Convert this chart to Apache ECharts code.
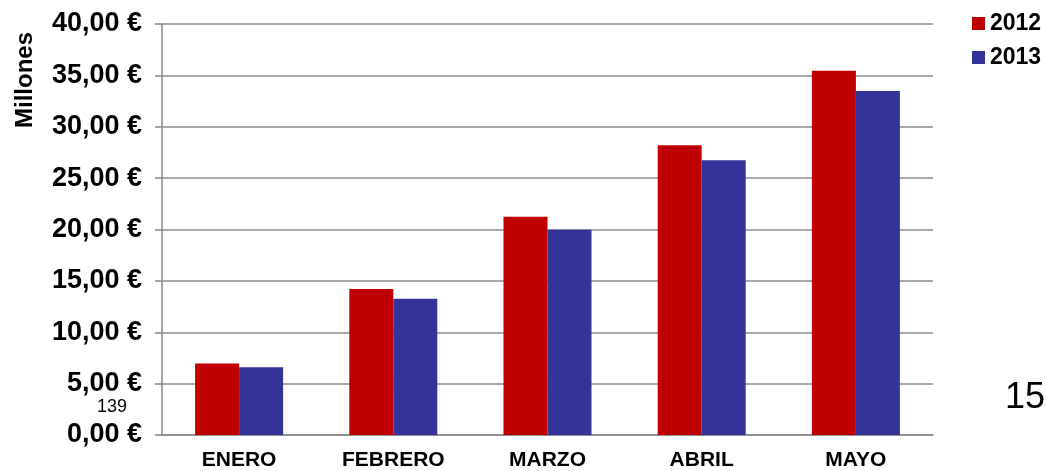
<!DOCTYPE html>
<html>
<head>
<meta charset="utf-8">
<script src="https://cdn.jsdelivr.net/npm/echarts@6/dist/echarts.min.js"></script>
<style>
html,body{margin:0;padding:0;background:#fff;}
#main{width:1046px;height:471px;}
</style>
</head>
<body>
<div id="main"></div>
<script>
const categories = ['ENERO', 'FEBRERO', 'MARZO', 'ABRIL', 'MAYO'];
const series2012 = [6.95, 14.22, 21.23, 28.2, 35.45];
const series2013 = [6.59, 13.25, 19.98, 26.75, 33.48];
const seriesNames = ['2012', '2013'];
const yAxisTitle = 'Millones';
const strayTexts = ['139', '15'];

const FONT = 'Arial, "Liberation Sans", sans-serif';
const chart = echarts.init(document.getElementById('main'));
chart.setOption({
  animation: false,
  backgroundColor: '#fff',
  grid: { left: 162, right: 113, top: 24, bottom: 35, containLabel: false },
  legend: {
    orient: 'vertical', left: 972, top: 12, padding: 0,
    itemWidth: 13, itemHeight: 13, itemGap: 11, icon: 'rect',
    textStyle: { fontFamily: FONT, fontSize: 23, fontWeight: 'bold', color: '#000', lineHeight: 23 },
    data: seriesNames
  },
  xAxis: {
    type: 'category', data: categories,
    axisLine: { lineStyle: { color: '#868686', width: 1.5 } },
    axisTick: { length: 6, lineStyle: { color: '#868686', width: 1.5 } },
    axisLabel: { fontFamily: FONT, fontSize: 21, fontWeight: 'bold', color: '#000', margin: 15 }
  },
  yAxis: {
    type: 'value', min: 0, max: 40, interval: 5,
    axisLine: { show: true, lineStyle: { color: '#868686', width: 1.5 } },
    axisTick: { show: true, length: 7, lineStyle: { color: '#868686', width: 1.5 } },
    splitLine: { lineStyle: { color: '#8c8c8c', width: 1.5 } },
    axisLabel: {
      fontFamily: FONT, fontSize: 27, fontWeight: 'bold', color: '#000', margin: 20,
      formatter: v => v.toFixed(2).replace('.', ',') + ' €'
    }
  },
  series: [
    { name: seriesNames[0], type: 'bar', data: series2012, barWidth: 44, barGap: 0,
      itemStyle: { color: '#C00000' } },
    { name: seriesNames[1], type: 'bar', data: series2013, barWidth: 44, barGap: 0,
      itemStyle: { color: '#333399' } }
  ],
  graphic: [
    { type: 'text', x: 25, y: 80, rotation: Math.PI / 2,
      style: { text: yAxisTitle, font: 'bold 24px ' + FONT, fill: '#000', align: 'center', verticalAlign: 'middle' } },
    { type: 'text', x: 112, y: 407,
      style: { text: strayTexts[0], font: '18px ' + FONT, fill: '#000', align: 'center', verticalAlign: 'middle' } },
    { type: 'text', x: 1005, y: 398,
      style: { text: strayTexts[1], font: '36px ' + FONT, fill: '#000', align: 'left', verticalAlign: 'middle' } }
  ]
});
</script>
</body>
</html>
